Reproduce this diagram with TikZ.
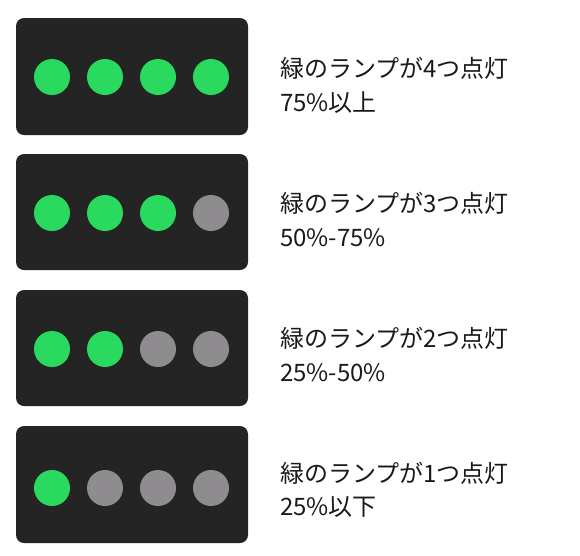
\documentclass[tikz,border=0pt]{standalone}
\usepackage{fontspec}
\newfontfamily\jpfont{Noto Sans CJK JP}
\definecolor{panelgray}{RGB}{36,36,37}
\definecolor{lampgreen}{RGB}{41,218,94}
\definecolor{lampoff}{RGB}{142,140,143}
\definecolor{textblack}{RGB}{26,26,26}
\tikzset{
  panel/.style={fill=panelgray, rounded corners=8pt},
  lampon/.style={circle, fill=lampgreen, minimum size=36pt, inner sep=0pt},
  lampoff/.style={circle, fill=lampoff, minimum size=36pt, inner sep=0pt},
  caption/.style={anchor=west, inner sep=0pt, text=textblack, font=\jpfont\fontsize{24}{28}\selectfont},
}
\begin{document}
\begin{tikzpicture}[x=1pt,y=-1pt]%
\useasboundingbox[fill=white] (0,0) rectangle (580,555);%
% row 1
\fill[panel] (16,18) rectangle (248,135);%
\node[lampon] (r1a) at (52,77) {};%
\node[lampon] (r1b) at (105,77) {};%
\node[lampon] (r1c) at (158,77) {};%
\node[lampon] (r1d) at (211,77) {};%
\node[caption] (t1a) at (280,68.5) {緑のランプが4つ点灯};%
\node[caption] (t1b) at (280,103) {75\%以上};%
% row 2
\fill[panel] (16,154) rectangle (248,270);%
\node[lampon] (r2a) at (52,213) {};%
\node[lampon] (r2b) at (105,213) {};%
\node[lampon] (r2c) at (158,213) {};%
\node[lampoff] (r2d) at (211,213) {};%
\node[caption] (t2a) at (280,203.5) {緑のランプが3つ点灯};%
\node[caption] (t2b) at (280,237.5) {50\%-75\%};%
% row 3
\fill[panel] (16,290) rectangle (248,406);%
\node[lampon] (r3a) at (52,349) {};%
\node[lampon] (r3b) at (105,349) {};%
\node[lampoff] (r3c) at (158,349) {};%
\node[lampoff] (r3d) at (211,349) {};%
\node[caption] (t3a) at (280,338.5) {緑のランプが2つ点灯};%
\node[caption] (t3b) at (280,372.5) {25\%-50\%};%
% row 4
\fill[panel] (16,426) rectangle (248,543);%
\node[lampon] (r4a) at (52,488) {};%
\node[lampoff] (r4b) at (105,488) {};%
\node[lampoff] (r4c) at (158,488) {};%
\node[lampoff] (r4d) at (211,488) {};%
\node[caption] (t4a) at (280,473.5) {緑のランプが1つ点灯};%
\node[caption] (t4b) at (280,507.5) {25\%以下};%
\end{tikzpicture}
\end{document}
